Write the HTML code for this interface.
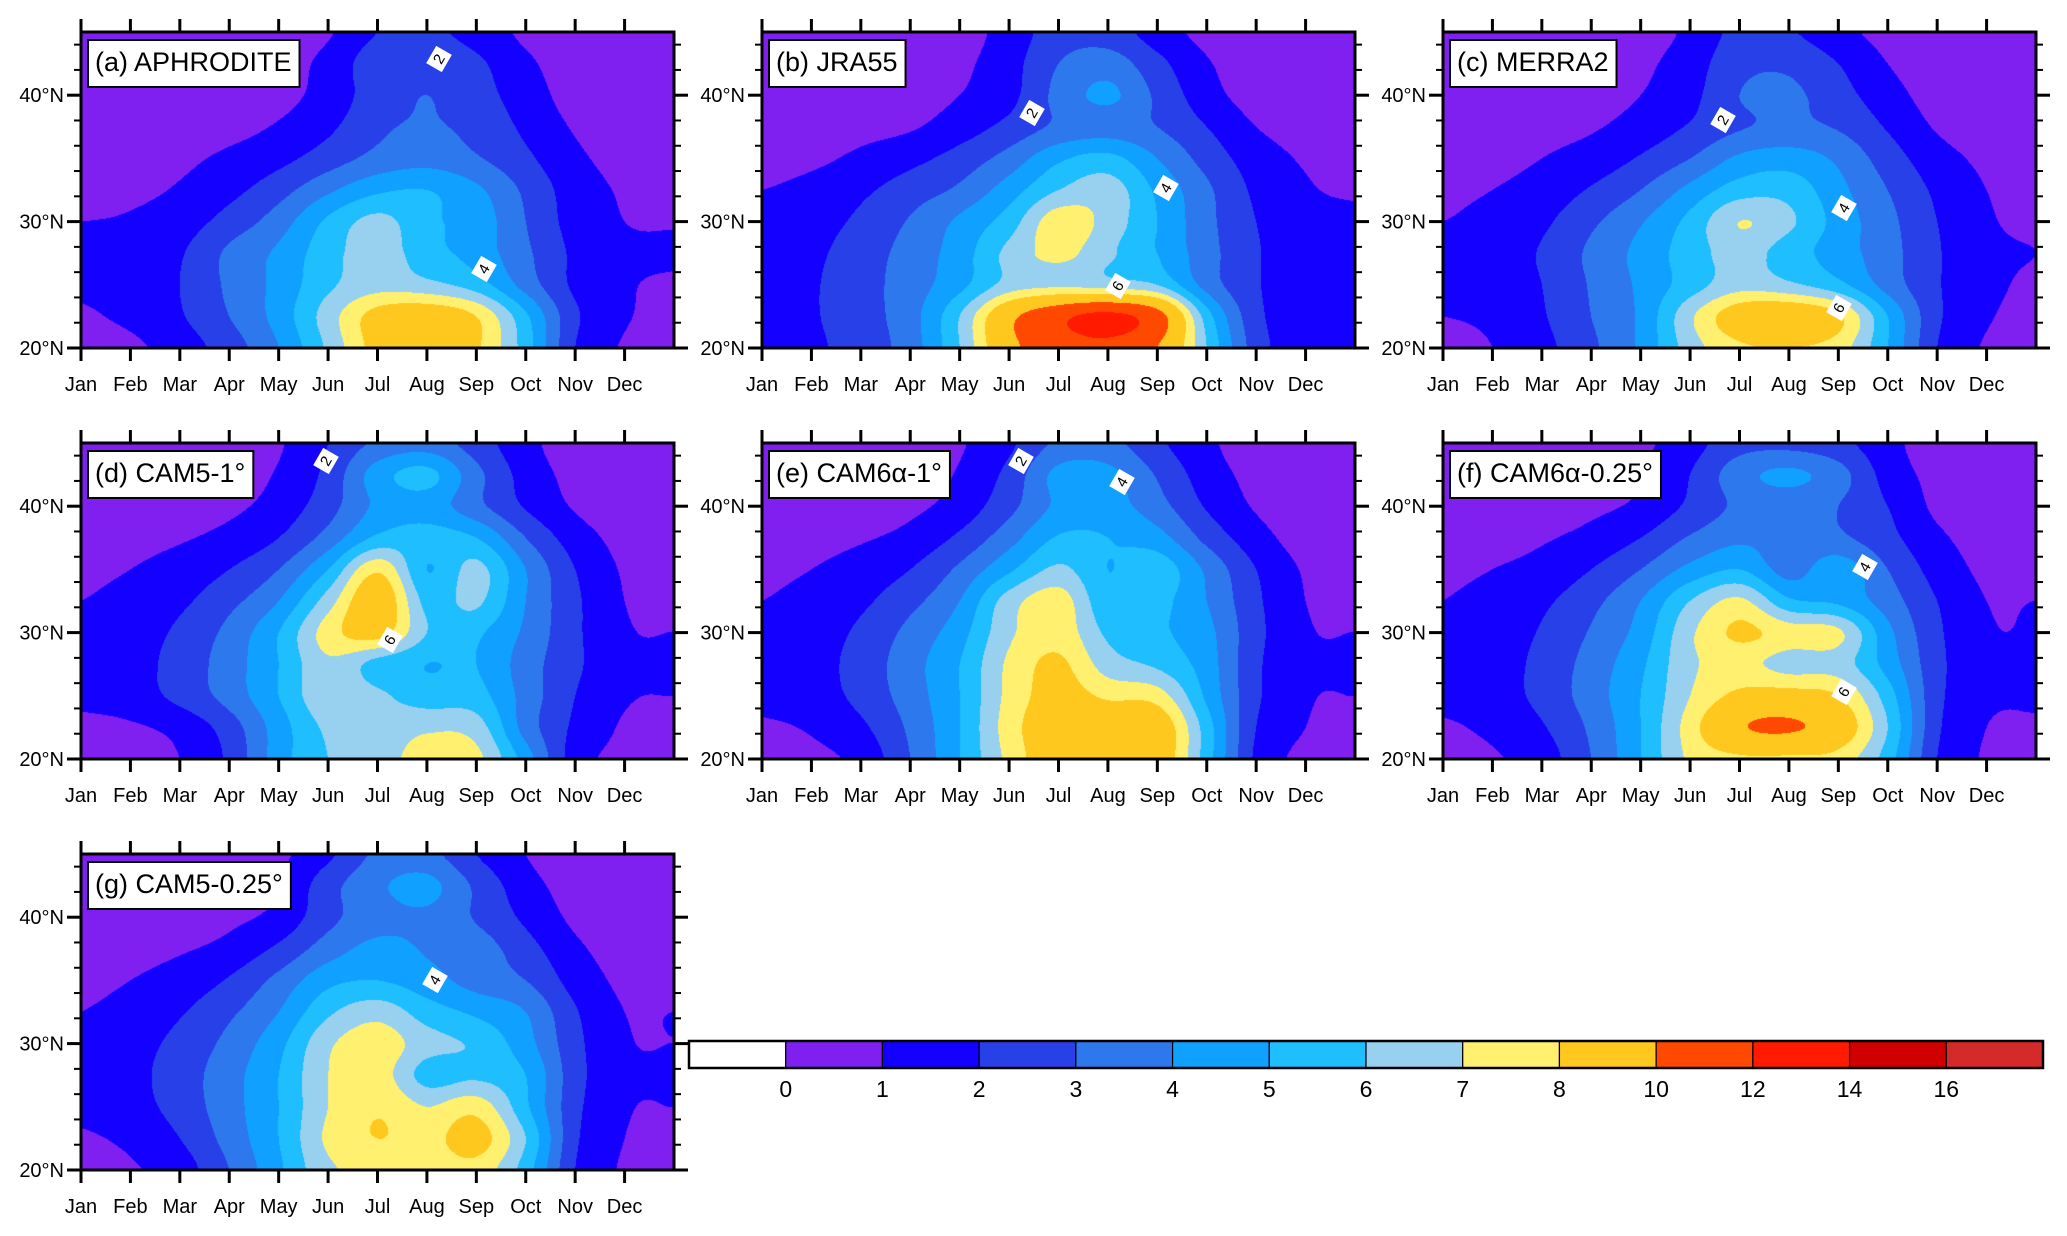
<!DOCTYPE html>
<html><head><meta charset="utf-8">
<style>
html,body{margin:0;padding:0;background:#fff;}
body{width:2067px;height:1236px;position:relative;overflow:hidden;font-family:"Liberation Sans",Arial,sans-serif;}
canvas{position:absolute;}
#ov{position:absolute;left:0;top:0;}
</style></head>
<body>
<div id="panels"></div>
<svg id="ov" width="2067" height="1236" xmlns="http://www.w3.org/2000/svg"></svg>
<script>
// ---------- data ----------
const months = ["Jan","Feb","Mar","Apr","May","Jun","Jul","Aug","Sep","Oct","Nov","Dec"];
const latTickLabels = ["20°N","30°N","40°N"];
const latTicks = [20,30,40];
const levels = [0,1,2,3,4,5,6,7,8,10,12,14,16];
const levelColors = ["#ffffff","#8020f0","#1400ff","#2840e8","#2e78ee","#10a0ff","#1ebeff","#98d0f0","#fff070","#ffc81e","#ff4800","#ff1a00","#d00000","#d42a2a"];
const barLabels = ["0","1","2","3","4","5","6","7","8","10","12","14","16"];
// grids: rows from 45N (top) to 20N (bottom) every 2.5 deg; columns x=0..12 months
const aphrodite = [
[0.3,0.3,0.3,0.4,0.5,0.9,2.0,2.2,1.6,0.8,0.4,0.3,0.3],
[0.3,0.3,0.3,0.4,0.6,1.3,2.6,2.8,2.2,1.2,0.5,0.3,0.3],
[0.3,0.3,0.4,0.5,0.7,1.4,2.5,3.0,2.4,1.5,0.6,0.3,0.3],
[0.4,0.4,0.5,0.7,1.1,1.8,2.8,3.1,2.7,1.8,0.9,0.5,0.4],
[0.5,0.6,0.8,1.2,1.7,2.5,3.3,3.6,3.1,2.2,1.2,0.7,0.6],
[0.7,0.8,1.1,1.7,2.6,3.8,4.8,5.0,4.2,2.8,1.5,0.9,0.8],
[1.0,1.1,1.5,2.4,3.5,5.2,6.3,5.2,4.6,3.0,1.6,1.0,0.95],
[1.2,1.3,1.9,3.2,4.2,5.6,6.5,5.4,4.6,3.2,1.8,1.2,1.1],
[1.1,1.3,2.0,3.2,4.3,5.8,6.6,6.3,5.5,3.6,1.8,1.1,0.9],
[0.9,1.2,1.9,3.0,4.4,6.5,8.5,9.0,8.0,5.2,2.2,1.1,0.8],
[0.6,0.8,1.5,2.5,4.0,6.2,8.5,9.5,8.2,5.5,2.0,0.9,0.6]];
const jra55 = [
[0.3,0.3,0.3,0.4,0.6,1.4,2.5,2.5,1.5,0.7,0.4,0.3,0.3],
[0.3,0.3,0.3,0.5,0.8,1.6,3.0,3.5,2.3,1.1,0.5,0.3,0.3],
[0.3,0.3,0.4,0.6,1.0,1.7,3.3,4.2,2.8,1.4,0.6,0.3,0.3],
[0.4,0.5,0.7,0.9,1.5,2.3,3.2,3.5,3.0,2.0,1.0,0.6,0.5],
[0.6,0.8,1.2,1.7,2.4,3.4,4.8,5.3,4.0,2.6,1.5,0.9,0.8],
[1.0,1.3,1.8,2.5,3.2,4.5,6.0,6.5,4.8,3.2,1.8,1.1,0.9],
[1.3,1.6,2.2,3.1,4.2,5.5,7.6,6.6,5.0,3.3,2.0,1.3,1.2],
[1.5,1.8,2.5,3.4,4.5,6.3,7.3,6.2,5.0,3.4,2.1,1.4,1.3],
[1.6,1.9,2.6,3.5,4.7,6.4,6.8,6.5,6.0,3.6,2.1,1.4,1.3],
[1.6,1.9,2.6,3.6,6.0,9.5,11.5,12.5,10.8,5.5,2.3,1.5,1.3],
[1.5,1.8,2.5,3.5,6.0,9.5,11.0,11.5,10.0,6.0,2.5,1.5,1.3]];
const merra2 = [
[0.3,0.3,0.3,0.4,0.6,1.2,2.3,2.1,1.3,0.7,0.4,0.3,0.3],
[0.3,0.3,0.3,0.5,0.8,1.5,2.7,2.8,2.0,1.0,0.5,0.3,0.3],
[0.3,0.3,0.4,0.6,1.0,1.7,3.0,3.2,2.4,1.4,0.6,0.3,0.3],
[0.4,0.5,0.7,0.9,1.4,2.1,2.9,3.2,2.9,1.9,0.9,0.5,0.4],
[0.6,0.7,1.0,1.4,2.1,3.0,4.2,4.5,3.8,2.5,1.4,0.8,0.6],
[0.9,1.0,1.4,2.1,3.0,4.3,5.5,5.6,4.3,3.0,1.8,1.0,0.8],
[1.0,1.2,1.8,2.8,3.9,5.3,7.0,6.2,4.6,3.3,2.0,1.1,0.9],
[1.2,1.4,2.1,3.2,4.3,5.5,6.4,5.5,4.5,3.4,2.1,1.2,1.0],
[1.2,1.4,2.0,3.1,4.2,5.5,6.6,6.2,5.3,3.6,2.1,1.2,0.9],
[1.0,1.2,1.9,3.0,4.2,6.8,8.8,9.2,8.2,5.0,2.2,1.1,0.8],
[0.7,1.0,1.7,2.8,4.2,6.5,7.8,8.0,7.5,5.0,2.0,0.9,0.6]];
const cam5_1 = [
[0.3,0.3,0.3,0.5,0.9,2.0,3.2,3.5,2.5,1.3,0.5,0.3,0.3],
[0.3,0.3,0.4,0.6,1.1,2.3,4.5,5.3,3.3,1.6,0.7,0.3,0.3],
[0.4,0.4,0.5,0.8,1.4,2.6,4.2,4.5,3.3,1.9,0.9,0.4,0.35],
[0.6,0.7,0.9,1.3,2.0,3.4,5.2,5.4,5.0,3.0,1.5,0.7,0.5],
[0.8,1.0,1.4,2.0,3.0,5.0,7.8,5.0,6.3,4.0,2.0,0.9,0.7],
[1.0,1.3,1.8,2.7,4.0,6.5,9.0,5.7,6.2,4.0,2.2,1.0,0.9],
[1.2,1.5,2.2,3.3,5.0,7.5,8.5,6.0,5.2,3.8,2.2,1.1,1.0],
[1.3,1.6,2.4,3.5,5.0,6.8,5.6,5.0,5.0,3.5,2.2,1.2,1.1],
[1.2,1.5,2.3,3.4,5.0,6.8,6.2,5.5,5.4,3.6,2.0,1.1,1.0],
[0.8,0.9,1.3,2.5,4.5,6.2,6.3,6.8,6.5,3.6,1.8,0.9,0.8],
[0.7,0.8,1.0,2.2,4.5,6.0,6.4,7.6,7.3,4.5,1.5,0.8,0.7]];
const cam6_1 = [
[0.3,0.3,0.3,0.5,0.9,1.8,3.2,3.3,2.2,1.2,0.5,0.3,0.3],
[0.3,0.3,0.4,0.6,1.1,2.3,4.3,4.3,2.9,1.5,0.7,0.3,0.3],
[0.4,0.4,0.5,0.8,1.4,2.7,4.2,4.4,3.4,1.9,0.9,0.4,0.35],
[0.6,0.7,0.9,1.3,2.2,3.6,5.1,5.0,4.4,2.7,1.4,0.6,0.5],
[0.8,1.0,1.4,2.0,3.2,4.8,6.2,5.0,5.6,3.8,2.0,0.9,0.7],
[1.0,1.3,1.8,2.7,4.0,6.5,7.5,5.2,5.3,4.0,2.2,1.0,0.9],
[1.2,1.5,2.2,3.3,4.6,6.8,7.6,5.8,5.2,4.3,2.3,1.1,1.0],
[1.3,1.6,2.4,3.6,5.0,7.2,8.2,6.5,5.8,4.5,2.2,1.2,1.1],
[1.2,1.5,2.3,3.5,5.0,7.3,8.5,7.8,7.5,4.8,2.2,1.1,1.0],
[0.9,1.1,1.8,3.2,5.0,7.5,9.0,9.2,9.0,5.5,2.0,1.0,0.9],
[0.7,0.8,1.3,3.0,5.0,7.3,9.0,9.2,9.0,5.5,1.8,0.8,0.7]];
const cam6_025 = [
[0.3,0.3,0.3,0.5,0.8,1.6,2.6,2.7,2.3,1.3,0.5,0.3,0.3],
[0.3,0.3,0.4,0.6,1.0,2.0,3.6,4.2,3.4,1.6,0.7,0.3,0.3],
[0.4,0.4,0.5,0.8,1.2,2.2,3.2,3.4,3.0,2.0,0.8,0.4,0.4],
[0.6,0.7,0.9,1.3,2.0,3.1,3.8,3.5,3.2,2.3,1.2,0.6,0.5],
[0.8,1.0,1.3,2.0,3.0,4.3,5.0,3.6,4.6,3.0,1.6,0.8,0.7],
[1.0,1.3,1.8,2.7,4.0,6.0,7.2,5.2,4.8,3.5,2.0,1.0,1.0],
[1.1,1.4,2.1,3.1,4.4,6.8,8.2,7.5,7.2,4.3,2.2,1.1,1.05],
[1.2,1.5,2.3,3.4,4.8,6.8,7.3,6.6,6.5,4.6,2.3,1.2,1.1],
[1.2,1.5,2.3,3.5,5.0,7.0,8.3,8.5,8.0,5.5,2.3,1.2,1.1],
[0.9,1.2,1.9,3.2,5.0,7.5,9.8,10.2,9.0,6.0,2.2,1.0,0.9],
[0.7,0.9,1.5,3.0,5.0,7.2,7.8,7.8,7.6,5.5,2.0,0.9,0.8]];
const cam5_025 = [
[0.3,0.3,0.3,0.5,0.8,1.8,3.2,3.3,2.0,1.0,0.4,0.3,0.3],
[0.3,0.3,0.4,0.6,1.0,2.6,3.8,4.3,2.8,1.4,0.6,0.3,0.3],
[0.4,0.4,0.5,0.8,1.3,2.7,3.6,3.8,2.9,1.8,0.8,0.4,0.4],
[0.6,0.7,0.9,1.3,2.2,3.5,4.3,3.9,3.5,2.4,1.2,0.6,0.5],
[0.8,1.0,1.4,2.1,3.3,4.7,5.0,4.4,3.6,3.0,1.6,0.8,0.7],
[1.0,1.3,1.9,2.8,4.0,5.8,6.6,5.5,4.8,4.0,2.1,1.0,1.0],
[1.2,1.6,2.3,3.3,4.7,6.8,7.6,6.4,5.8,4.4,2.3,1.1,1.0],
[1.3,1.7,2.5,3.6,5.0,7.0,7.5,5.6,5.8,5.0,2.4,1.2,1.1],
[1.2,1.6,2.4,3.6,5.0,7.0,7.9,7.0,7.6,5.2,2.3,1.1,1.0],
[0.9,1.2,2.0,3.4,5.0,7.2,8.0,7.6,8.5,6.0,2.2,1.0,0.95],
[0.7,0.9,1.5,3.0,4.8,6.8,7.2,7.2,7.6,5.5,2.0,0.9,0.8]];
const panelTitles = ["(a) APHRODITE","(b) JRA55","(c) MERRA2","(d) CAM5-1°","(e) CAM6α-1°","(f) CAM6α-0.25°","(g) CAM5-0.25°"];
const panelGrids = [aphrodite,jra55,merra2,cam5_1,cam6_1,cam6_025,cam5_025];

// ---------- layout ----------
const PW=593, PH=316;
const colX=[81,762,1443], rowY=[32,443,854];
const pos=[[0,0],[1,0],[2,0],[0,1],[1,1],[2,1],[0,2]];
const NS="http://www.w3.org/2000/svg";
const svg=document.getElementById('ov');
function mk(tag,attrs,parent){const e=document.createElementNS(NS,tag);for(const k in attrs)e.setAttribute(k,attrs[k]);(parent||svg).appendChild(e);return e;}
function xScale(m){return m/12*PW;}
function yScale(lat){return (45-lat)/25*PH;}

function cr(p0,p1,p2,p3,t){return 0.5*((2*p1)+(-p0+p2)*t+(2*p0-5*p1+4*p2-p3)*t*t+(-p0+3*p1-3*p2+p3)*t*t*t);}
function sample(g,gx,gy){
  const ny=g.length,nx=g[0].length;
  const ix=Math.floor(gx),iy=Math.floor(gy);const tx=gx-ix,ty=gy-iy;
  const r=[];
  for(let j=-1;j<=2;j++){
    const yy=Math.min(ny-1,Math.max(0,iy+j));const row=g[yy];
    const c=k=>row[Math.min(nx-1,Math.max(0,ix+k))];
    r.push(cr(c(-1),c(0),c(1),c(2),tx));
  }
  return cr(r[0],r[1],r[2],r[3],ty);
}
function colorIdx(v){let i=0;while(i<levels.length&&v>=levels[i])i++;return i;}
function hex(c){return [parseInt(c.substr(1,2),16),parseInt(c.substr(3,2),16),parseInt(c.substr(5,2),16)];}
const rgb=levelColors.map(hex);

const host=document.getElementById('panels');
panelGrids.forEach((g,p)=>{
  const L=colX[pos[p][0]], T=rowY[pos[p][1]];
  const cv=document.createElement('canvas');
  
  
  cv.width=PW;cv.height=PH;cv.style.left=L+'px';cv.style.top=T+'px';
  host.appendChild(cv);
  const ctx=cv.getContext('2d');const im=ctx.createImageData(PW,PH);
  const nx=g[0].length-1, ny=g.length-1;
  for(let y=0;y<PH;y++){
    const lat=45-(y+0.5)/PH*25; const gy=(45-lat)/25*ny;
    for(let x=0;x<PW;x++){
      const m=(x+0.5)/PW*12; const gx=m/12*nx;
      const c=rgb[colorIdx(sample(g,gx,gy))];
      const o=(y*PW+x)*4;im.data[o]=c[0];im.data[o+1]=c[1];im.data[o+2]=c[2];im.data[o+3]=255;
    }
  }
  ctx.putImageData(im,0,0);

  const grp=mk('g',{});
  
  
  const fr=mk('rect',{x:L,y:T,width:PW,height:PH,fill:'none',stroke:'#000','stroke-width':3},grp);
  
  
  months.forEach((mn,k)=>{
    const x=L+xScale(k);
    mk('line',{x1:x,y1:T,x2:x,y2:T-13,stroke:'#000','stroke-width':3},grp);
    mk('line',{x1:x,y1:T+PH,x2:x,y2:T+PH+13,stroke:'#000','stroke-width':3},grp);
    const t=mk('text',{x:x,y:T+PH+43,'text-anchor':'middle','font-size':20,'font-family':'Liberation Sans, sans-serif'},grp);
    t.textContent=mn;
    
    
  });
  for(let lat=22;lat<=44;lat+=2){
    if(lat%10===0)continue;
    const y=T+yScale(lat);
    mk('line',{x1:L,y1:y,x2:L-7,y2:y,stroke:'#000','stroke-width':2},grp);
    mk('line',{x1:L+PW,y1:y,x2:L+PW+7,y2:y,stroke:'#000','stroke-width':2},grp);
  }
  latTicks.forEach((lat,i)=>{
    const y=T+yScale(lat);
    mk('line',{x1:L,y1:y,x2:L-14,y2:y,stroke:'#000','stroke-width':3},grp);
    mk('line',{x1:L+PW,y1:y,x2:L+PW+14,y2:y,stroke:'#000','stroke-width':3},grp);
    const t=mk('text',{x:L-17,y:y+7,'text-anchor':'end','font-size':20,'font-family':'Liberation Sans, sans-serif'},grp);
    t.textContent=latTickLabels[i];
    
    
  });
  const tt=mk('text',{x:L+14,y:T+39,'font-size':27,'font-family':'Liberation Sans, sans-serif'},grp);
  tt.textContent=panelTitles[p];
  
  
  const bb=tt.getBBox();
  const br=mk('rect',{x:L+7,y:T+8,width:bb.width+15,height:47,fill:'#fff',stroke:'#000','stroke-width':2},grp);
  
  
  grp.insertBefore(br,tt);
});

// contour labels (annotation positions)
const cLabels=[["2",439,59],["4",484,269],["2",1032,113],["4",1166,188],["6",1118,286],["2",1723,120],["4",1844,208],["6",1839,308],["2",326,461],["6",390,640],["2",1021,461],["4",1122,482],["4",1865,567],["6",1844,692],["4",435,980]];
cLabels.forEach(c=>{
  const g=mk('g',{transform:'translate('+c[1]+','+c[2]+') rotate(-60)'});
  
  
  mk('rect',{x:-10,y:-9,width:20,height:18,fill:'#fff'},g);
  const t=mk('text',{x:0,y:5,'text-anchor':'middle','font-size':15,'font-family':'Liberation Sans, sans-serif'},g);
  t.textContent=c[0];
});

// colorbar
const cbL=689, cbR=2043, cbT=1041, cbH=27;
const cbW=(cbR-cbL)/levelColors.length;
const cb=mk('g',{});


levelColors.forEach((c,i)=>{
  const r=mk('rect',{x:cbL+i*cbW,y:cbT,width:cbW,height:cbH,fill:c,stroke:'#000','stroke-width':1.2},cb);
  
  
});
mk('rect',{x:cbL,y:cbT,width:cbR-cbL,height:cbH,fill:'none',stroke:'#000','stroke-width':2.5},cb);
barLabels.forEach((s,i)=>{
  const t=mk('text',{x:cbL+(i+1)*cbW,y:1097,'text-anchor':'middle','font-size':23,'font-family':'Liberation Sans, sans-serif'},cb);
  t.textContent=s;
  
  
});
</script>
</body></html>
